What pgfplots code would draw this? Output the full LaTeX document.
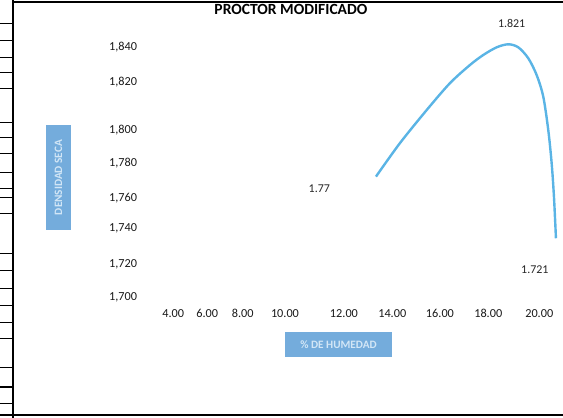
\documentclass[border=0pt]{standalone}
\usepackage{pgfplots}
\pgfplotsset{compat=1.18}
\usepackage{fontspec}
\setmainfont{Carlito}
\definecolor{curve}{RGB}{90,180,229}
\definecolor{boxfill}{RGB}{116,172,220}
\definecolor{boxtext}{RGB}{210,230,246}
\begin{document}
\begin{tikzpicture}
\useasboundingbox (0bp,0bp) rectangle (563bp,418bp);
% spreadsheet frame
\draw[line width=1.3bp] (13bp,0bp) -- (13bp,418bp);
\draw[line width=1.8bp] (13bp,416bp) -- (563bp,416bp);
\draw[line width=1.8bp] (0bp,3bp) -- (563bp,3bp);
\foreach \yy in {395,378,361,346,330,296,281,265,246,230,221,205,165,148,130,113,96,80,51,15}{
  \draw[line width=0.8bp] (0bp,\yy bp) -- (13bp,\yy bp);
}
\draw[line width=1.8bp] (0bp,31bp) -- (13bp,31bp);
\begin{axis}[
  at={(160.9bp,104.9bp)}, anchor=south west,
  scale only axis, width=400.3bp, height=284bp,
  xmin=4.5, xmax=20.9, ymin=1.691, ymax=1.85,
  clip=false,
  axis line style={draw=none},
  tick style={draw=none},
  /pgf/number format/assume math mode=true,
  xtick={5.007,6.400,7.850,9.583,12,13.979,15.933,17.912,20.001},
  xticklabels={4.00,6.00,8.00,10.00,12.00,14.00,16.00,18.00,20.00},
  ytick={1.700,1.7185,1.7386,1.7554,1.7750,1.7935,1.8204,1.840},
  yticklabels={{1,700},{1,720},{1,740},{1,760},{1,780},{1,800},{1,820},{1,840}},
  major tick length=0pt,
  tick label style={font=\fontsize{12.3}{14}\selectfont, text=black!90},
  xticklabel style={anchor=center, yshift=0bp},
  yticklabel style={anchor=center, xshift=-37.9bp},
  title={PROCTOR MODIFICADO},
  title style={at={(axis description cs:0.325,1.0497)}, anchor=center, font=\fontsize{15.6}{17}\selectfont\bfseries},
  xlabel={\% DE HUMEDAD},
  xlabel style={at={(axis description cs:0.4437,-0.1106)}, anchor=center, fill=boxfill, text=boxtext,
    minimum width=107bp, minimum height=25bp, inner sep=0pt, font=\fontsize{11.3}{13}\selectfont\bfseries},
  ylabel={DENSIDAD SECA},
  ylabel style={at={(axis description cs:-0.2558,0.4775)}, anchor=center, rotate=0, fill=boxfill, text=boxtext,
    minimum width=105bp, minimum height=25bp, inner sep=0pt, font=\fontsize{11.3}{13}\selectfont\bfseries},
]
\addplot[color=curve, line width=2.4bp, smooth] table {
x y
13.31 1.7674
14.29 1.7861
15.39 1.8047
16.34 1.8197
17.162 1.8299
17.707 1.8355
18.256 1.8398
18.731 1.8415
19.141 1.8398
19.550 1.8337
19.894 1.8243
20.165 1.8122
20.370 1.7935
20.509 1.7749
20.603 1.7562
20.685 1.7329
};
\node[font=\fontsize{12}{14}\selectfont, text=black!85] at (axis cs:18.87,1.8529) {1.821};
\node[font=\fontsize{12}{14}\selectfont, text=black!85] at (axis cs:10.99,1.7609) {1.77};
\node[font=\fontsize{12}{14}\selectfont, text=black!85] at (axis cs:19.82,1.7155) {1.721};
\end{axis}
\end{tikzpicture}
\end{document}
